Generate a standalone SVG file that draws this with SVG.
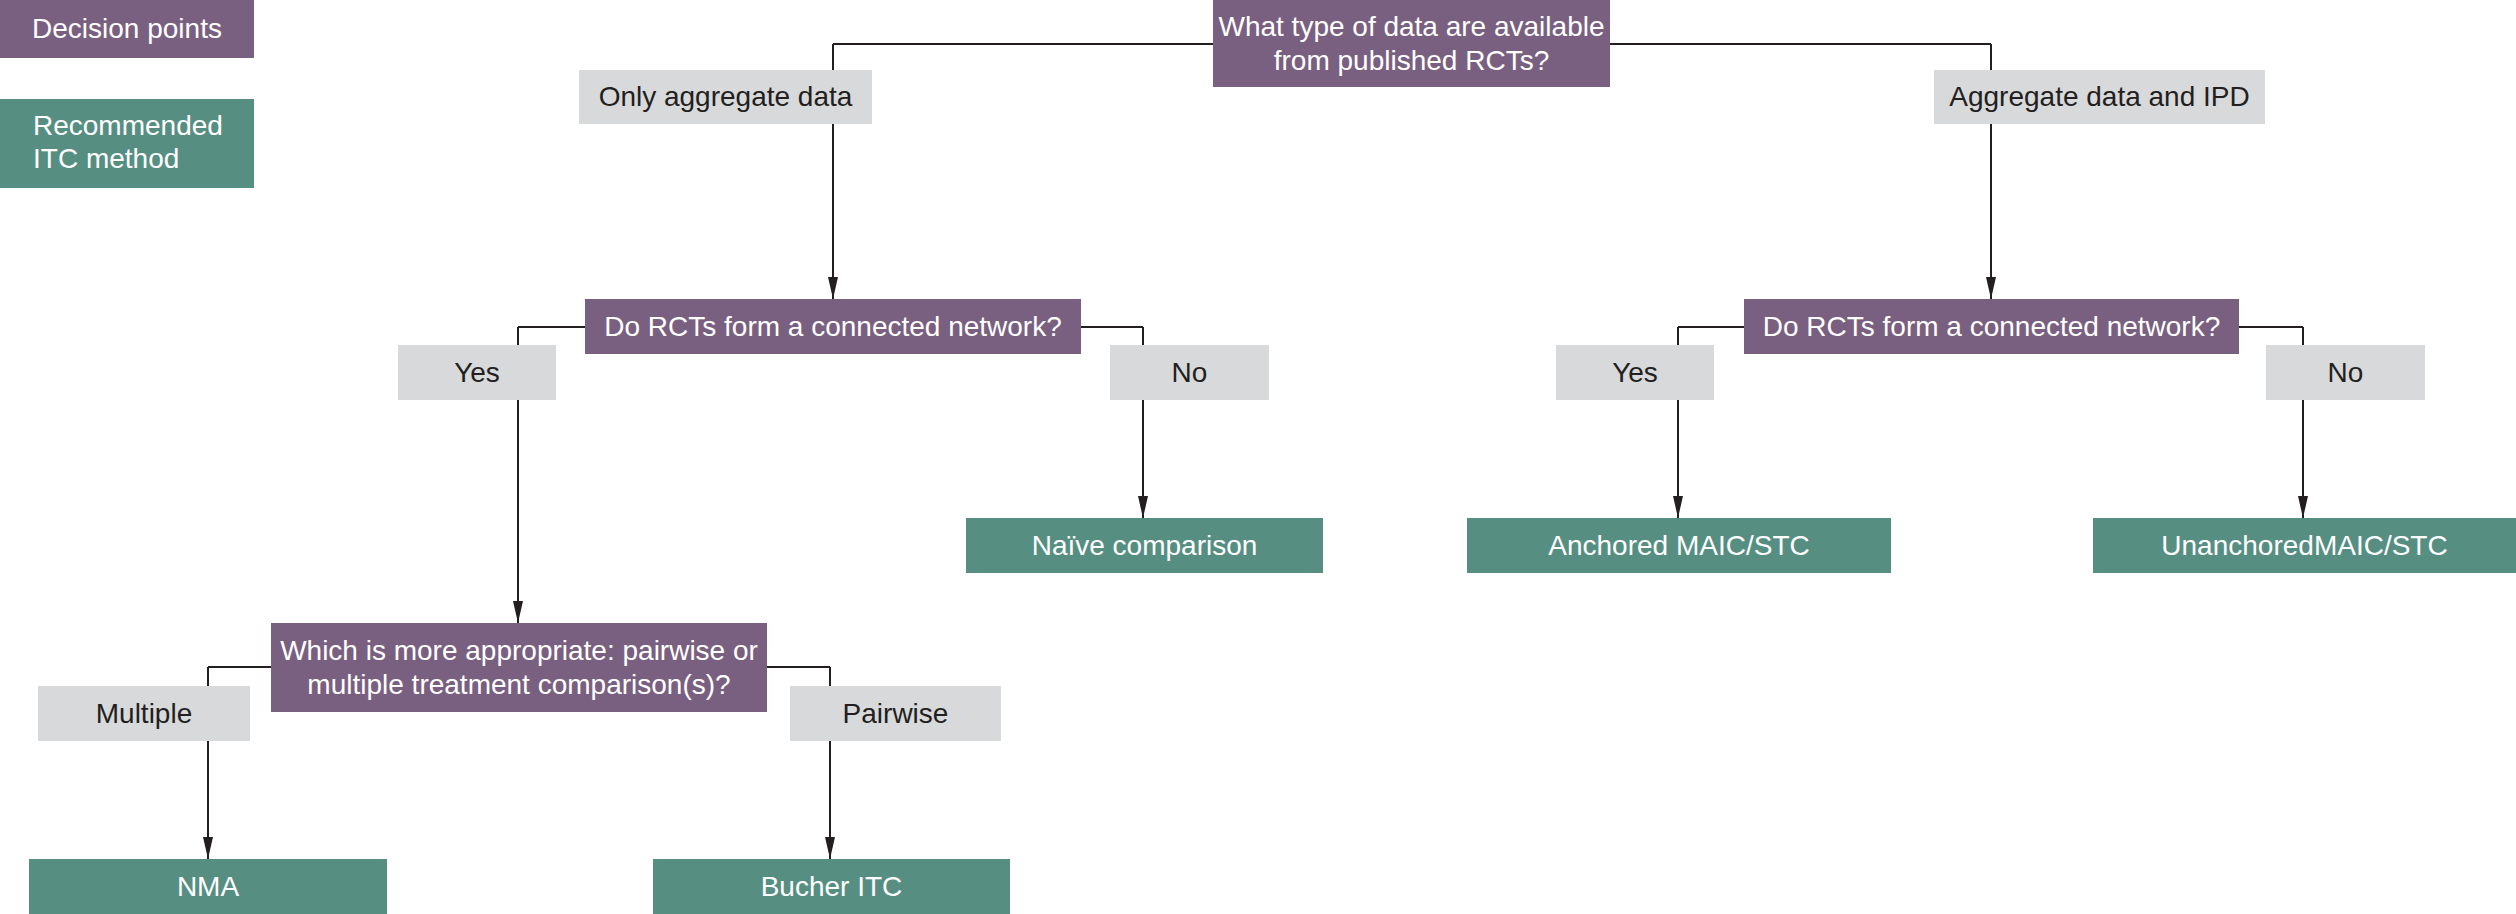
<svg xmlns="http://www.w3.org/2000/svg" width="2516" height="914" viewBox="0 0 2516 914">
<style>
.dec{fill:#7a6080}
.rec{fill:#568f82}
.opt{fill:#d8d9db}
text{font-family:"Liberation Sans",Arial,sans-serif;font-size:28px;text-anchor:middle}
.w{fill:#ffffff}
.k{fill:#231f20}
.conn{fill:none;stroke:#231f20;stroke-width:2}
</style>
<defs>
<marker id="arr" viewBox="0 0 22 10" refX="22" refY="5" markerWidth="22" markerHeight="10" markerUnits="userSpaceOnUse" orient="auto">
<path d="M0,0 L22,5 L0,10 z" fill="#231f20"/>
</marker>
</defs>
<rect width="2516" height="914" fill="#ffffff"/>
<g id="connectors">
<path class="conn" d="M833,44 H1991"/>
<path class="conn" d="M833,44 V299" marker-end="url(#arr)"/>
<path class="conn" d="M1991,44 V299" marker-end="url(#arr)"/>
<path class="conn" d="M518,327 H1143"/>
<path class="conn" d="M518,327 V623" marker-end="url(#arr)"/>
<path class="conn" d="M1143,327 V518" marker-end="url(#arr)"/>
<path class="conn" d="M1678,327 H2303"/>
<path class="conn" d="M1678,327 V518" marker-end="url(#arr)"/>
<path class="conn" d="M2303,327 V518" marker-end="url(#arr)"/>
<path class="conn" d="M208,667 H830"/>
<path class="conn" d="M208,667 V859" marker-end="url(#arr)"/>
<path class="conn" d="M830,667 V859" marker-end="url(#arr)"/>
</g>
<g id="legend-decision">
<rect class="dec" x="0" y="0" width="254" height="58"/>
<text class="w" x="127" y="38">Decision points</text>
</g>
<g id="legend-recommended">
<rect class="rec" x="0" y="99" width="254" height="89"/>
<text class="w" x="33" y="135" style="text-anchor:start">Recommended</text>
<text class="w" x="33" y="168" style="text-anchor:start">ITC method</text>
</g>
<g id="q-data">
<rect class="dec" x="1213" y="0" width="397" height="87"/>
<text class="w" x="1411.5" y="36">What type of data are available</text>
<text class="w" x="1411.5" y="70">from published RCTs?</text>
</g>
<g id="opt-aggregate">
<rect class="opt" x="579" y="70" width="293" height="54"/>
<text class="k" x="725.5" y="106">Only aggregate data</text>
</g>
<g id="opt-ipd">
<rect class="opt" x="1934" y="70" width="331" height="54"/>
<text class="k" x="2099.5" y="106">Aggregate data and IPD</text>
</g>
<g id="q-network-left">
<rect class="dec" x="585" y="299" width="496" height="55"/>
<text class="w" x="833" y="336">Do RCTs form a connected network?</text>
</g>
<g id="q-network-right">
<rect class="dec" x="1744" y="299" width="495" height="55"/>
<text class="w" x="1991.5" y="336">Do RCTs form a connected network?</text>
</g>
<g id="yes-left">
<rect class="opt" x="398" y="345" width="158" height="55"/>
<text class="k" x="477" y="382">Yes</text>
</g>
<g id="no-left">
<rect class="opt" x="1110" y="345" width="159" height="55"/>
<text class="k" x="1189.5" y="382">No</text>
</g>
<g id="yes-right">
<rect class="opt" x="1556" y="345" width="158" height="55"/>
<text class="k" x="1635" y="382">Yes</text>
</g>
<g id="no-right">
<rect class="opt" x="2266" y="345" width="159" height="55"/>
<text class="k" x="2345.5" y="382">No</text>
</g>
<g id="naive">
<rect class="rec" x="966" y="518" width="357" height="55"/>
<text class="w" x="1144.5" y="555">Naïve comparison</text>
</g>
<g id="anchored">
<rect class="rec" x="1467" y="518" width="424" height="55"/>
<text class="w" x="1679" y="555">Anchored MAIC/STC</text>
</g>
<g id="unanchored">
<rect class="rec" x="2093" y="518" width="423" height="55"/>
<text class="w" x="2304.5" y="555">UnanchoredMAIC/STC</text>
</g>
<g id="q-pairwise">
<rect class="dec" x="271" y="623" width="496" height="89"/>
<text class="w" x="519" y="660">Which is more appropriate: pairwise or</text>
<text class="w" x="519" y="694">multiple treatment comparison(s)?</text>
</g>
<g id="multiple">
<rect class="opt" x="38" y="686" width="212" height="55"/>
<text class="k" x="144" y="723">Multiple</text>
</g>
<g id="pairwise">
<rect class="opt" x="790" y="686" width="211" height="55"/>
<text class="k" x="895.5" y="723">Pairwise</text>
</g>
<g id="nma">
<rect class="rec" x="29" y="859" width="358" height="55"/>
<text class="w" x="208" y="896">NMA</text>
</g>
<g id="bucher">
<rect class="rec" x="653" y="859" width="357" height="55"/>
<text class="w" x="831.5" y="896">Bucher ITC</text>
</g>
</svg>
